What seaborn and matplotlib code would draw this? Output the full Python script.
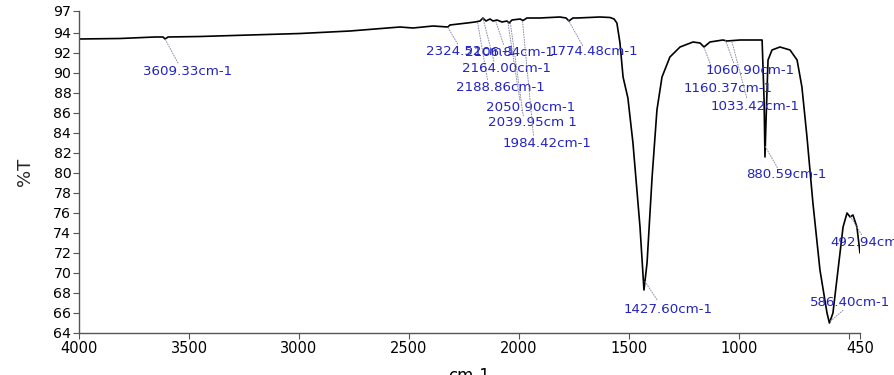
import numpy as np
import pandas as pd
import matplotlib
matplotlib.use("Agg")
import matplotlib.pyplot as plt
import seaborn as sns

# ---- spectrum data (wavenumber cm-1, %T) ----
wavenumber = [4000, 3814, 3655, 3618, 3609, 3595, 3450, 3223, 2995, 2768,
              2541, 2482, 2391, 2323, 2314, 2236, 2200, 2177, 2164, 2150,
              2132, 2118, 2100, 2077, 2055, 2045, 2032, 1995, 1982, 1964,
              1905, 1814, 1786, 1773, 1755, 1736, 1632, 1586, 1568, 1555,
              1541, 1527, 1505, 1482, 1450, 1432, 1418, 1395, 1373, 1350,
              1314, 1268, 1209, 1177, 1159, 1132, 1073, 1055, 995, 895,
              886, 882, 877, 868, 850, 814, 768, 736, 714, 691,
              664, 632, 600, 589, 573, 550, 527, 509, 495, 482,
              464, 450]
transmittance = [93.4, 93.45, 93.6, 93.6, 93.4, 93.6, 93.65, 93.8, 93.95, 94.2,
                 94.6, 94.5, 94.7, 94.6, 94.8, 95.0, 95.1, 95.2, 95.5, 95.2,
                 95.4, 95.2, 95.3, 95.1, 95.2, 95.0, 95.3, 95.4, 95.25, 95.5,
                 95.5, 95.6, 95.5, 95.2, 95.5, 95.5, 95.6, 95.55, 95.4, 95.0,
                 93.0, 89.6, 87.5, 83.0, 74.6, 68.3, 71.0, 79.6, 86.3, 89.6,
                 91.6, 92.6, 93.1, 93.0, 92.6, 93.1, 93.3, 93.2, 93.3, 93.3,
                 87.3, 81.6, 85.3, 91.3, 92.3, 92.6, 92.3, 91.3, 88.6, 83.6,
                 77.0, 70.3, 66.0, 65.0, 66.0, 70.3, 74.6, 76.0, 75.6, 75.8,
                 74.6, 72.0]

# ---- peak annotations ----
peak_wn = [3609.33, 2324.52, 2188.86, 2164.00, 2106.84, 2050.90, 2039.95,
           1984.42, 1774.48, 1427.60, 1160.37, 1060.90, 1033.42, 880.59,
           586.40, 492.94]
peak_labels = ["3609.33cm-1", "2324.52cm-1", "2188.86cm-1", "2164.00cm-1",
               "2106.84cm-1", "2050.90cm-1", "2039.95cm 1", "1984.42cm-1",
               "1774.48cm-1", "1427.60cm-1", "1160.37cm-1", "1060.90cm-1",
               "1033.42cm-1", "880.59cm-1", "586.40cm-1", "492.94cm-1"]
# layout: text offset (px right, px down) and leader end offset
text_off = [(-22, 33), (-22, 25), (-21, 66), (-21, 51), (-30, 32), (-22, 86),
            (-22, 101), (-20, 123), (-19, 31), (-21, 28), (-20, 42), (-20, 30),
            (-21, 66), (-19, 28), (-20, -19), (-20, 26)]
lead_off = [(13, 24), (10, 17), (10, 58), (11, 43), (8, 24), (12, 78),
            (13, 94), (11, 115), (14, 25), (12, 18), (8, 21), (8, 22),
            (15, 57), (12, 21), (13, -11), (11, 18)]

x_ticks = [4000, 3500, 3000, 2500, 2000, 1500, 1000, 500, 450]
x_tick_labels = ["4000", "3500", "3000", "2500", "2000", "1500", "1000", "", "450"]
y_ticks = [64, 66, 68, 70, 72, 74, 76, 78, 80, 82, 84, 86, 88, 90, 92, 94, 96.2]
y_tick_labels = ["64", "66", "68", "70", "72", "74", "76", "78", "80", "82",
                 "84", "86", "88", "90", "92", "94", "97"]

sns.set_theme(style="white")
plt.rcParams["font.family"] = ["DejaVu Sans"]

fig = plt.figure(figsize=(8.95, 3.75), dpi=100)
ax = fig.add_axes([79 / 895, 1 - 333 / 375, (860 - 79) / 895, (333 - 11) / 375])

df = pd.DataFrame({"wn": wavenumber, "T": transmittance})
sns.lineplot(data=df, x="wn", y="T", sort=False, estimator=None,
             color="black", linewidth=1.2, ax=ax)

ax.set_xlim(4000, 450)
ax.set_ylim(64, 96.2)
ax.set_xticks(x_ticks)
ax.set_xticklabels(x_tick_labels, fontsize=10.5)
ax.set_yticks(y_ticks)
ax.set_yticklabels(y_tick_labels, fontsize=10.2)
ax.set_xlabel("")
ax.set_ylabel("%T", fontsize=13, labelpad=14)

for side in ["top", "right"]:
    ax.spines[side].set_visible(False)
for side in ["left", "bottom"]:
    ax.spines[side].set_color("#555555")
    ax.spines[side].set_linewidth(1.0)
ax.tick_params(axis="both", which="both", direction="out", length=4,
               width=0.8, color="#555555", labelcolor="black", pad=1.5,
               bottom=True, left=True)

wn_sorted = np.array(wavenumber)[::-1]
t_sorted = np.array(transmittance)[::-1]
for wn, lab, (tx, ty), (lx, ly) in zip(peak_wn, peak_labels, text_off, lead_off):
    tv = float(np.interp(wn, wn_sorted, t_sorted))
    ax.annotate("", xy=(wn, tv), xytext=(lx, -ly), textcoords="offset pixels",
                arrowprops=dict(arrowstyle="-", linestyle=":", color="#8a8aa8",
                                lw=0.7, shrinkA=0, shrinkB=0),
                annotation_clip=False)
    ax.annotate(lab, xy=(wn, tv), xytext=(tx, -ty), textcoords="offset pixels",
                ha="left", va="center", fontsize=9.6, color="#2323c0",
                annotation_clip=False)

fig.text(469 / 895, 1 - 381 / 375, "cm-1", ha="center", va="baseline",
         fontsize=12, color="black")

fig.savefig("out.png", dpi=100)
